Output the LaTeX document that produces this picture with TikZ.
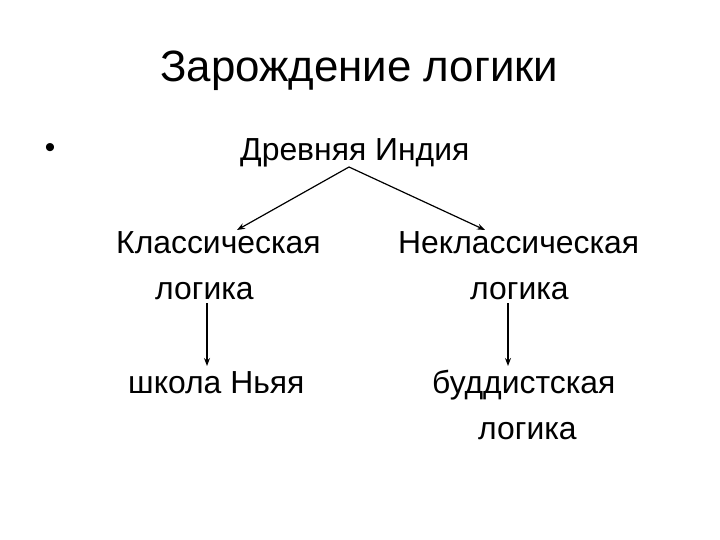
\documentclass[tikz,border=0pt]{standalone}
\usepackage{fontspec}
\setmainfont{Liberation Sans}
\usetikzlibrary{arrows.meta}
\begin{document}
\begin{tikzpicture}[x=1bp,y=-1bp,
  txt/.style={inner sep=0pt, anchor=base west, font=\fontsize{32}{38}\selectfont},
  ttl/.style={inner sep=0pt, anchor=base west, font=\fontsize{44}{52}\selectfont},
  arr/.style={line width=1.2bp, -{Stealth[length=8bp,width=6bp]}}]
\useasboundingbox (0,0) rectangle (720,540);
\node[ttl] (title) at (160,82) {Зарождение логики};
\node[inner sep=0pt, font=\fontsize{30}{36}\selectfont] (bullet) at (50,151) {•};
\node[txt] (india) at (240,161) {Древняя Индия};
\node[txt] (klass) at (116,254) {Классическая};
\node[txt] (klass2) at (155,299) {логика};
\node[txt] (neklass) at (398,254) {Неклассическая};
\node[txt] (neklass2) at (470,299) {логика};
\node[txt] (nyaya) at (128,393) {школа Ньяя};
\node[txt] (budd) at (432,393) {буддистская};
\node[txt] (budd2) at (478,439) {логика};
\coordinate (split) at (349,167);
\coordinate (kltop) at (237,230);
\coordinate (nktop) at (485,230);
\coordinate (klbot) at (207,303);
\coordinate (nkbot) at (508,303);
\coordinate (nytop) at (207,366);
\coordinate (bdtop) at (508,366);
\draw[arr] (split) -- (kltop);
\draw[arr] (split) -- (nktop);
\draw[arr] (klbot) -- (nytop);
\draw[arr] (nkbot) -- (bdtop);
\end{tikzpicture}
\end{document}
